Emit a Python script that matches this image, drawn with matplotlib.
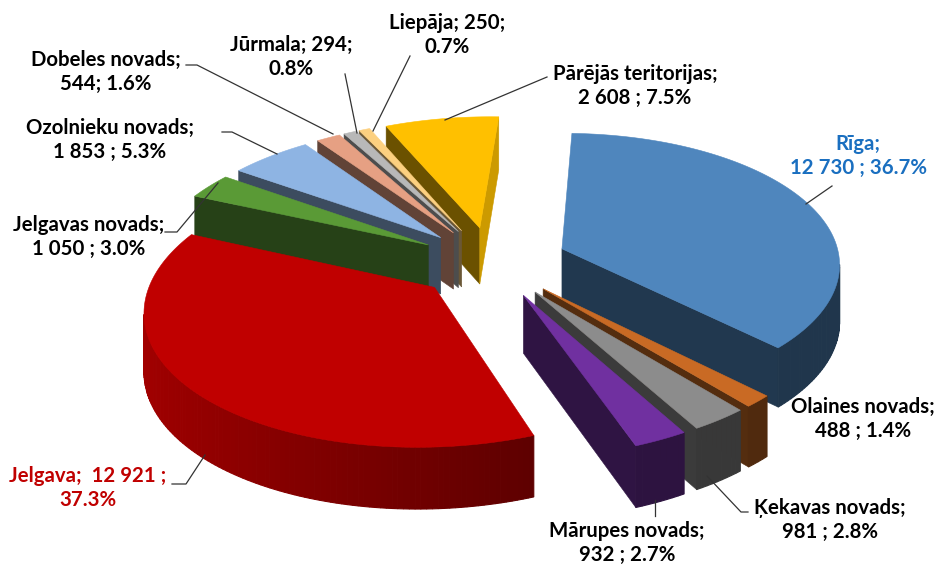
import numpy as np
import matplotlib
matplotlib.use("Agg")
import matplotlib.pyplot as plt

# data
names = ["Rīga", "Olaines novads", "Ķekavas novads", "Mārupes novads", "Jelgava",
         "Jelgavas novads", "Ozolnieku novads", "Dobeles novads", "Jūrmala",
         "Liepāja", "Pārējās teritorijas"]
values = [12730, 488, 981, 932, 12921, 1050, 1853, 544, 294, 250, 2608]
label_texts = ["Rīga;\n12 730 ; 36.7%", "Olaines novads;\n488 ; 1.4%",
               "Ķekavas novads;\n981 ; 2.8%", "Mārupes novads;\n932 ; 2.7%",
               "Jelgava;  12 921 ;\n37.3%", "Jelgavas novads;\n1 050 ; 3.0%",
               "Ozolnieku novads;\n1 853 ; 5.3%", "Dobeles novads;\n544; 1.6%",
               "Jūrmala; 294;\n0.8%", "Liepāja; 250;\n0.7%",
               "Pārējās teritorijas;\n2 608 ; 7.5%"]

colors = ["#4f86bd", "#c96a24", "#8c8c8c", "#7030a0", "#c00000", "#5a9a36",
          "#8eb4e3", "#e6a083", "#b8b8b8", "#fcd080", "#ffc000"]
label_colors = ["#1a6fc0", "black", "black", "black", "#c00000", "black",
                "black", "black", "black", "black", "black"]
label_pos = [(858, 156), (863, 419), (830, 520), (627, 543), (88, 488), (89, 237),
             (110, 140), (106, 72), (291, 57), (447, 35), (635, 86)]
leaders = [[(806, 204), (832, 186)],
           None,
           [(707, 476), (741, 512), (748, 512)],
           [(655, 500), (655, 516)],
           [(205, 455), (186, 484), (172, 484)],
           [(218, 183), (177, 232), (165, 232)],
           [(277, 154), (232, 132), (222, 132)],
           [(333, 134), (197, 65), (186, 65)],
           [(357, 133), (345, 74)],
           [(373, 131), (410, 56)],
           [(445, 120), (547, 77)]]

# pie geometry
cx, cy = 492, 262
rx, ry = 279, 133
persp = 0.125
shear = 9
depth = 57
explode = 0.27
first_angle = 2.0


def project(X, Y, drop=0.0):
    s = 1 / (1 - persp * Y)
    return cx + rx * X * s - shear * Y, cy + ry * Y * s + drop * depth * s**0.5


def shade(color, f):
    return np.array(matplotlib.colors.to_rgb(color)) * f


fig = plt.figure(figsize=(9.38, 5.65), dpi=100)
ax = fig.add_axes([0, 0, 1, 1])
ax.set_xlim(0, 938)
ax.set_ylim(565, 0)
ax.axis("off")

frac = np.array(values) / sum(values) * 360
starts = first_angle + np.concatenate([[0], np.cumsum(frac)[:-1]])
ends = starts + frac
mids = np.radians((starts + ends) / 2)
apex_x = explode * np.sin(mids)
apex_y = -explode * np.cos(mids)

for i in np.argsort(apex_y):
    c = colors[i]
    th = np.radians(np.linspace(starts[i], ends[i], max(int(frac[i]), 4)))
    X = apex_x[i] + np.sin(th)
    Y = apex_y[i] - np.cos(th)
    a0 = np.array(project(apex_x[i], apex_y[i]))
    mid_pt = np.array(project(X[len(X) // 2], Y[len(Y) // 2]))

    # cut faces, only the ones that turn towards the viewer
    for ang, sign in ((th[0], -1), (th[-1], 1)):
        ex, ey = apex_x[i] + np.sin(ang), apex_y[i] - np.cos(ang)
        e0 = np.array(project(ex, ey))
        edge = e0 - a0
        inner = mid_pt - a0
        # cross with screen down (0, 1) against cross with the inside of the slice
        if edge[0] * (edge[0] * inner[1] - edge[1] * inner[0]) > 0:
            continue
        f = 0.42 if sign * np.sin(ang) > 0.2 else 0.8
        pts = [project(apex_x[i], apex_y[i]), project(ex, ey),
               project(ex, ey, 1), project(apex_x[i], apex_y[i], 1)]
        ax.fill(*zip(*pts), color=shade(c, f), lw=0.4)

    # rim, only where it runs right to left on screen
    for j in range(len(th) - 1):
        xs = [X[j], X[j + 1], X[j + 1], X[j]]
        ys = [Y[j], Y[j + 1], Y[j + 1], Y[j]]
        dr = [0, 0, 1, 1]
        px, py = zip(*[project(a, b, d) for a, b, d in zip(xs, ys, dr)])
        if px[1] >= px[0]:
            continue
        f = np.interp(X[j], [-1.2, 0.5], [0.85, 0.4])
        ax.fill(px, py, color=shade(c, f), lw=0.8)

    top = [project(apex_x[i], apex_y[i])] + [project(a, b) for a, b in zip(X, Y)]
    ax.fill(*zip(*top), color=c, lw=0.4)

for i in range(len(names)):
    if leaders[i] is not None:
        ax.plot(*zip(*leaders[i]), color="#333333", lw=0.9, zorder=5)
    ax.text(label_pos[i][0], label_pos[i][1], label_texts[i], ha="center", va="center",
            fontsize=14.7, fontweight="bold", family="Lato", color=label_colors[i],
            linespacing=1.25, zorder=6)

plt.savefig("out.png", dpi=100)
